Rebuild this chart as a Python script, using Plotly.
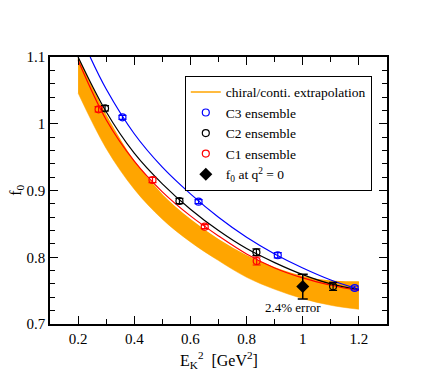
import plotly.graph_objects as go

# extrapolation band (upper / lower edge)
band_x = [0.2, 0.3, 0.4, 0.5, 0.6, 0.7, 0.8, 0.9, 1.0, 1.1, 1.2]
band_hi = [1.098, 1.012, 0.943, 0.893, 0.856, 0.826, 0.802, 0.784, 0.771, 0.764, 0.763]
band_lo = [1.046, 0.963, 0.902, 0.857, 0.823, 0.795, 0.770, 0.752, 0.738, 0.728, 0.722]

# fit curves for each ensemble
c3_curve_x = [0.243, 0.3, 0.4, 0.5, 0.6, 0.7, 0.8, 0.9, 1.0, 1.1, 1.2]
c3_curve_y = [1.100, 1.052, 0.985, 0.935, 0.895, 0.860, 0.830, 0.805, 0.784, 0.766, 0.752]
c2_curve_x = [0.2, 0.3, 0.4, 0.5, 0.6, 0.7, 0.8, 0.9, 1.0, 1.1, 1.2]
c2_curve_y = [1.100, 1.018, 0.956, 0.910, 0.872, 0.840, 0.813, 0.792, 0.774, 0.760, 0.751]
c1_curve_x = [0.2, 0.3, 0.4, 0.5, 0.6, 0.7, 0.8, 0.9, 1.0, 1.1, 1.2]
c1_curve_y = [1.095, 1.006, 0.944, 0.898, 0.862, 0.832, 0.805, 0.784, 0.769, 0.758, 0.750]

# lattice data points
c3_x = [0.358, 0.629, 0.911, 1.185]
c3_y = [1.0096, 0.8833, 0.8030, 0.7539]
c3_err = [0.003, 0.003, 0.004, 0.003]
c2_x = [0.296, 0.561, 0.835, 1.108]
c2_y = [1.0231, 0.8843, 0.8074, 0.7565]
c2_err = [0.004, 0.004, 0.005, 0.006]
c1_x = [0.273, 0.465, 0.651, 0.836]
c1_y = [1.0216, 0.9157, 0.8458, 0.7944]
c1_err = [0.004, 0.004, 0.003, 0.006]

# f0 at q^2 = 0
f0_x = [1.0]
f0_y = [0.756]
f0_err = [0.0185]

ORANGE = '#ffa500'
FONT = 'Liberation Serif'

fig = go.Figure()

fig.add_trace(go.Scatter(
    x=band_x, y=band_hi, mode='lines', line=dict(color=ORANGE, width=1.5, shape='spline'),
    name='chiral/conti. extrapolation'
))
fig.add_trace(go.Scatter(
    x=band_x, y=band_lo, mode='lines', line=dict(color=ORANGE, width=0.5, shape='spline'),
    fill='tonexty', fillcolor=ORANGE, showlegend=False
))

for cx, cy, col in [(c3_curve_x, c3_curve_y, 'blue'),
                    (c2_curve_x, c2_curve_y, 'black'),
                    (c1_curve_x, c1_curve_y, 'red')]:
    fig.add_trace(go.Scatter(
        x=cx, y=cy, mode='lines', line=dict(color=col, width=1.2, shape='spline'),
        showlegend=False
    ))

for px, py, pe, col, name in [(c3_x, c3_y, c3_err, 'blue', 'C3 ensemble'),
                              (c2_x, c2_y, c2_err, 'black', 'C2 ensemble'),
                              (c1_x, c1_y, c1_err, 'red', 'C1 ensemble')]:
    fig.add_trace(go.Scatter(
        x=px, y=py, mode='markers', name=name,
        marker=dict(symbol='circle-open', size=7, color=col, line=dict(width=1.2)),
        error_y=dict(type='data', array=pe, color=col, thickness=1.2, width=4)
    ))

fig.add_trace(go.Scatter(
    x=f0_x, y=f0_y, mode='markers', name='f<sub>0</sub> at q<sup>2</sup> = 0',
    marker=dict(symbol='diamond', size=10, color='black'),
    error_y=dict(type='data', array=f0_err, color='black', thickness=1.5, width=5)
))

fig.add_annotation(x=0.965, y=0.724, text='2.4% error', showarrow=False,
                   font=dict(family=FONT, size=13, color='black'))

# axis titles placed by hand so the plot area stays fixed
fig.add_annotation(xref='paper', yref='paper', x=0.5, y=-0.085, yanchor='top',
                   text='E<sub>K</sub><sup>2</sup>  [GeV<sup>2</sup>]', showarrow=False,
                   font=dict(family=FONT, size=16, color='black'))
fig.add_annotation(xref='paper', yref='paper', x=-0.1, y=0.5, xanchor='center',
                   text='f<sub>0</sub>', showarrow=False, textangle=-90,
                   font=dict(family=FONT, size=16, color='black'))

axis_common = dict(
    showline=True, linecolor='black', linewidth=1.5, mirror='allticks',
    ticks='inside', ticklen=8, tickwidth=1, tickcolor='black',
    showgrid=False, zeroline=False, automargin=False,
    tickfont=dict(family=FONT, size=15, color='black'),
)

fig.update_xaxes(
    range=[0.1, 1.3], dtick=0.2, tick0=0.2,
    minor=dict(dtick=0.1, ticks='inside', ticklen=5, tickcolor='black'),
    **axis_common
)
fig.update_yaxes(
    range=[0.7, 1.1], dtick=0.1, tick0=0.7,
    minor=dict(dtick=0.02, ticks='inside', ticklen=5, tickcolor='black'),
    **axis_common
)

# page body adds an 8px offset, so margins are shifted to keep the plot area in place
fig.update_layout(
    width=428, height=374,
    margin=dict(l=42, r=49, t=49, b=58),
    plot_bgcolor='white', paper_bgcolor='white',
    font=dict(family=FONT, color='black'),
    legend=dict(
        x=0.40, y=0.93, xanchor='left', yanchor='top',
        traceorder='normal',
        bgcolor='white', bordercolor='black', borderwidth=1,
        font=dict(family=FONT, size=13.5, color='black'),
        tracegroupgap=0, itemwidth=30
    ),
)

fig.write_html("out.html")
